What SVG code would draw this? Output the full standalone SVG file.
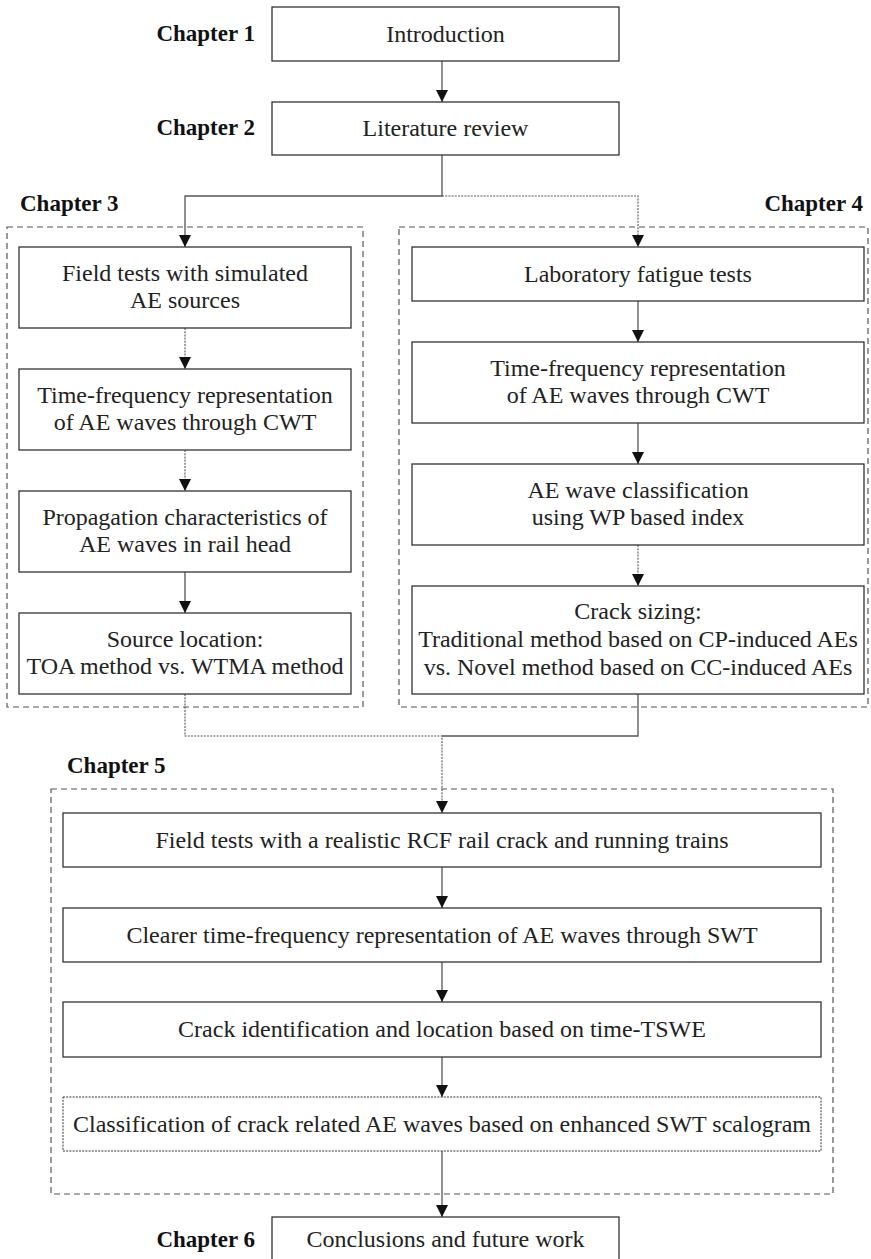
<svg xmlns="http://www.w3.org/2000/svg" width="871" height="1259" viewBox="0 0 871 1259">
<style>
.box{fill:#fff;stroke:#333;stroke-width:1.3}
.dbox{fill:#fff;stroke:#333;stroke-width:1;stroke-dasharray:2 1.2}
.grp{fill:none;stroke:#555;stroke-width:1.2;stroke-dasharray:6 4}
.t{font-family:"Liberation Serif","Times New Roman",serif;font-size:24px;fill:#222;text-anchor:middle}
.ch{font-family:"Liberation Serif","Times New Roman",serif;font-size:23px;font-weight:bold;fill:#111}
.c{fill:none;stroke:#555;stroke-width:1.3}
.cd{fill:none;stroke:#555;stroke-width:1.1;stroke-dasharray:2 1.2}
</style>
<defs>
<marker id="ah" viewBox="0 0 12 12" refX="12" refY="6" markerWidth="12" markerHeight="12" markerUnits="userSpaceOnUse" orient="auto">
<path d="M0,0 L12,6 L0,12 z" fill="#111"/>
</marker>
</defs>

<g id="groups">
<rect id="grp-ch3" class="grp" x="7" y="227" width="356" height="480"/>
<rect id="grp-ch4" class="grp" x="399" y="227" width="469" height="480"/>
<rect id="grp-ch5" class="grp" x="51" y="789" width="782" height="405"/>
</g>

<g id="labels">
<text class="ch" x="255" y="41" text-anchor="end">Chapter 1</text>
<text class="ch" x="255" y="135" text-anchor="end">Chapter 2</text>
<text class="ch" x="20" y="211">Chapter 3</text>
<text class="ch" x="863" y="211" text-anchor="end">Chapter 4</text>
<text class="ch" x="67" y="773">Chapter 5</text>
<text class="ch" x="255" y="1247" text-anchor="end">Chapter 6</text>
</g>

<g id="connectors">
<line class="c" x1="442" y1="61" x2="442" y2="102" marker-end="url(#ah)"/>
<path class="c" d="M442,155 V196 H185 V247" marker-end="url(#ah)"/>
<path class="cd" d="M442,196 H638 V247" marker-end="url(#ah)"/>
<line class="cd" x1="185" y1="328" x2="185" y2="369" marker-end="url(#ah)"/>
<line class="cd" x1="185" y1="450" x2="185" y2="491" marker-end="url(#ah)"/>
<line class="c" x1="185" y1="572" x2="185" y2="613" marker-end="url(#ah)"/>
<line class="c" x1="638" y1="301" x2="638" y2="342" marker-end="url(#ah)"/>
<line class="c" x1="638" y1="423" x2="638" y2="464" marker-end="url(#ah)"/>
<line class="cd" x1="638" y1="545" x2="638" y2="586" marker-end="url(#ah)"/>
<path class="cd" d="M185,694 V736 H442 V813" marker-end="url(#ah)"/>
<path class="c" d="M638,694 V736 H442"/>
<line class="c" x1="442" y1="867" x2="442" y2="908" marker-end="url(#ah)"/>
<line class="c" x1="442" y1="962" x2="442" y2="1002" marker-end="url(#ah)"/>
<line class="c" x1="442" y1="1057" x2="442" y2="1097" marker-end="url(#ah)"/>
<line class="c" x1="442" y1="1151" x2="442" y2="1217" marker-end="url(#ah)"/>
</g>

<g id="n-intro"><rect class="box" x="272" y="7" width="347" height="54"/><text class="t" x="445.5" y="42">Introduction</text></g>
<g id="n-lit"><rect class="box" x="272" y="102" width="347" height="53"/><text class="t" x="445.5" y="136">Literature review</text></g>

<g id="n-c3-1"><rect class="box" x="19" y="247" width="332" height="81"/><text class="t" x="185" y="281">Field tests with simulated</text><text class="t" x="185" y="308">AE sources</text></g>
<g id="n-c3-2"><rect class="box" x="19" y="369" width="332" height="81"/><text class="t" x="185" y="403">Time-frequency representation</text><text class="t" x="185" y="430">of AE waves through CWT</text></g>
<g id="n-c3-3"><rect class="box" x="19" y="491" width="332" height="81"/><text class="t" x="185" y="525">Propagation characteristics of</text><text class="t" x="185" y="552">AE waves in rail head</text></g>
<g id="n-c3-4"><rect class="box" x="19" y="613" width="332" height="81"/><text class="t" x="185" y="647">Source location:</text><text class="t" x="185" y="674">TOA method vs. WTMA method</text></g>

<g id="n-c4-1"><rect class="box" x="412" y="247" width="452" height="54"/><text class="t" x="638" y="282">Laboratory fatigue tests</text></g>
<g id="n-c4-2"><rect class="box" x="412" y="342" width="452" height="81"/><text class="t" x="638" y="376">Time-frequency representation</text><text class="t" x="638" y="403">of AE waves through CWT</text></g>
<g id="n-c4-3"><rect class="box" x="412" y="464" width="452" height="81"/><text class="t" x="638" y="498">AE wave classification</text><text class="t" x="638" y="525">using WP based index</text></g>
<g id="n-c4-4"><rect class="box" x="412" y="586" width="452" height="108"/><text class="t" x="638" y="619">Crack sizing:</text><text class="t" x="638" y="647">Traditional method based on CP-induced AEs</text><text class="t" x="638" y="675">vs. Novel method based on CC-induced AEs</text></g>

<g id="n-c5-1"><rect class="box" x="63" y="813" width="758" height="54"/><text class="t" x="442" y="848">Field tests with a realistic RCF rail crack and running trains</text></g>
<g id="n-c5-2"><rect class="box" x="63" y="908" width="758" height="54"/><text class="t" x="442" y="943">Clearer time-frequency representation of AE waves through SWT</text></g>
<g id="n-c5-3"><rect class="box" x="63" y="1002" width="758" height="55"/><text class="t" x="442" y="1037">Crack identification and location based on time-TSWE</text></g>
<g id="n-c5-4"><rect class="dbox" x="63" y="1097" width="758" height="54"/><text class="t" x="442" y="1132">Classification of crack related AE waves based on enhanced SWT scalogram</text></g>

<g id="n-concl"><rect class="box" x="272" y="1217" width="347" height="48"/><text class="t" x="445.5" y="1247">Conclusions and future work</text></g>
</svg>
